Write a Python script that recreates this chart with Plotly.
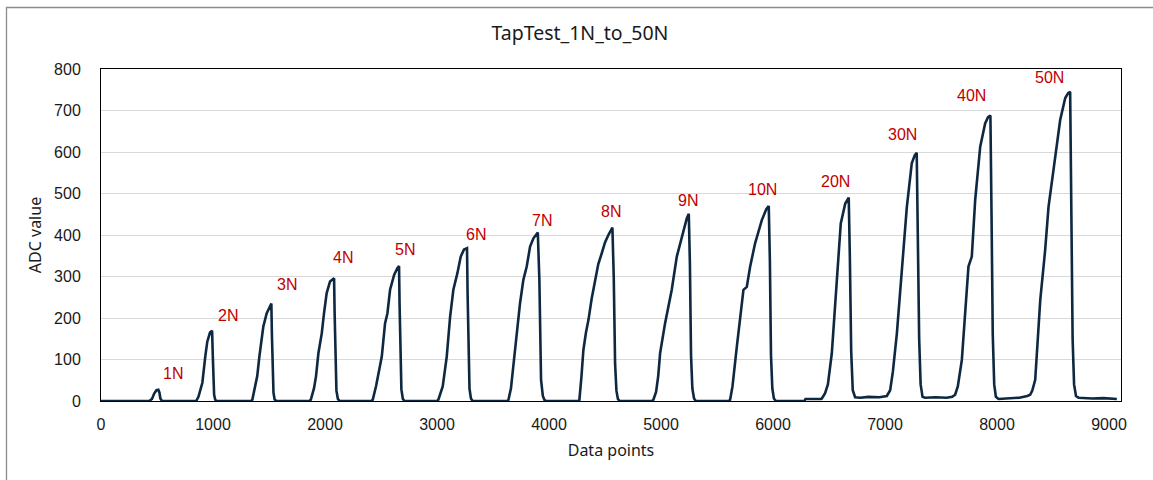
import plotly.graph_objects as go

# ---- data ----
baseline_x = [0, 430]
baseline_y = [0, 0]

p1_x = [455, 475, 495, 512, 522, 530, 545, 850]
p1_y = [5, 18, 26, 27, 20, 6, 0, 0]
p2_x = [870, 884, 905, 931, 949, 973, 992, 998, 1003, 1010, 1020, 1035, 1340]
p2_y = [10, 26, 44, 107, 143, 165, 169, 110, 50, 15, 3, 0, 0]
p3_x = [1351, 1375, 1395, 1414, 1449, 1479, 1503, 1521, 1526, 1532, 1540, 1550, 1565, 1860]
p3_y = [3, 34, 60, 107, 179, 211, 227, 235, 160, 70, 20, 4, 0, 0]
p4_x = [1873, 1902, 1920, 1941, 1971, 1991, 2015, 2045, 2070, 2081, 2086, 2093, 2102, 2115, 2130, 2415]
p4_y = [3, 31, 60, 115, 163, 211, 260, 288, 295, 296, 210, 90, 25, 5, 0, 0]
p5_x = [2426, 2456, 2480, 2507, 2536, 2557, 2581, 2617, 2646, 2661, 2666, 2673, 2682, 2695, 2710, 3000]
p5_y = [3, 36, 70, 107, 187, 211, 268, 304, 320, 325, 230, 100, 28, 5, 0, 0]
p6_x = [3012, 3051, 3070, 3087, 3117, 3146, 3182, 3212, 3241, 3268, 3273, 3280, 3290, 3303, 3318, 3625]
p6_y = [3, 35, 70, 107, 203, 268, 308, 348, 365, 368, 260, 110, 30, 6, 0, 0]
p7_x = [3637, 3660, 3682, 3712, 3741, 3771, 3801, 3831, 3861, 3900, 3914, 3929, 3945, 3960, 3975, 4260]
p7_y = [2, 30, 83, 171, 235, 292, 324, 372, 392, 406, 292, 51, 12, 2, 0, 0]
p8_x = [4271, 4290, 4307, 4330, 4352, 4380, 4411, 4440, 4471, 4500, 4530, 4566, 4578, 4590, 4602, 4615, 4630, 4920]
p8_y = [2, 60, 123, 165, 195, 245, 292, 330, 356, 382, 400, 418, 300, 90, 25, 5, 0, 0]
p9_x = [4932, 4956, 4975, 4992, 5036, 5096, 5141, 5200, 5230, 5248, 5258, 5268, 5280, 5295, 5310, 5605]
p9_y = [3, 22, 60, 115, 187, 268, 348, 412, 440, 451, 330, 110, 30, 6, 0, 0]
p10_x = [5617, 5638, 5655, 5677, 5736, 5766, 5796, 5840, 5900, 5940, 5962, 5972, 5982, 5994, 6008, 6025, 6280, 6290, 6430]
p10_y = [3, 35, 80, 131, 268, 275, 324, 380, 436, 462, 470, 340, 110, 30, 6, 0, 0, 5, 5]
p20_x = [6436, 6465, 6490, 6525, 6550, 6570, 6605, 6645, 6676, 6686, 6698, 6712, 6733, 6780, 6850, 6950, 7000]
p20_y = [6, 19, 40, 115, 220, 308, 428, 476, 490, 350, 120, 26, 9, 8, 10, 9, 11]
p30_x = [7016, 7046, 7070, 7106, 7150, 7195, 7239, 7265, 7283, 7293, 7305, 7318, 7335, 7358, 7450, 7550, 7600]
p30_y = [12, 26, 70, 163, 324, 468, 573, 592, 598, 400, 150, 40, 10, 8, 9, 8, 10]
p40_x = [7626, 7650, 7686, 7745, 7775, 7805, 7850, 7894, 7920, 7941, 7951, 7962, 7975, 7990, 8013, 8100, 8200, 8270]
p40_y = [15, 35, 99, 324, 348, 484, 613, 669, 684, 688, 450, 160, 40, 10, 5, 6, 8, 12]
p50_x = [8296, 8315, 8341, 8386, 8430, 8460, 8520, 8564, 8609, 8635, 8653, 8663, 8675, 8688, 8705, 8728, 8850, 8950, 9000, 9070]
p50_y = [15, 25, 51, 243, 364, 468, 589, 677, 730, 742, 745, 500, 150, 40, 12, 8, 6, 7, 6, 5]

label_text = ["1N", "2N", "3N", "4N", "5N", "6N", "7N", "8N", "9N", "10N", "20N", "30N", "40N", "50N"]
label_x = [646, 1131, 1663, 2158, 2714, 3345, 3935, 4551, 5244, 5908, 6560, 7158, 7774, 8467]
label_y = [67, 207, 281, 345, 364, 402, 436, 456, 482, 510, 530, 641, 737, 780]

x_ticks = [0, 1000, 2000, 3000, 4000, 5000, 6000, 7000, 8000, 9000]
y_ticks = [0, 100, 200, 300, 400, 500, 600, 700, 800]

segments_x = [baseline_x, p1_x, p2_x, p3_x, p4_x, p5_x, p6_x, p7_x, p8_x, p9_x, p10_x, p20_x, p30_x, p40_x, p50_x]
segments_y = [baseline_y, p1_y, p2_y, p3_y, p4_y, p5_y, p6_y, p7_y, p8_y, p9_y, p10_y, p20_y, p30_y, p40_y, p50_y]
xs, ys = [], []
for sx, sy in zip(segments_x, segments_y):
    xs.extend(sx)
    ys.extend(sy)

fig = go.Figure()
fig.add_trace(go.Scatter(x=xs, y=ys, mode="lines",
                         line=dict(color="#0E2841", width=2.6),
                         showlegend=False, hoverinfo="skip"))

for t, lx, ly in zip(label_text, label_x, label_y):
    fig.add_annotation(x=lx, y=ly, text=t, showarrow=False,
                       font=dict(family="Liberation Sans, Arial", size=16, color="#C00000"),
                       xanchor="center", yanchor="middle")

tick_font = dict(family="Liberation Sans, Arial", size=16, color="#1A1A1A")
title_font = dict(family="Noto Sans, Liberation Sans", size=16, color="#1A1A1A")

fig.update_layout(
    width=1153, height=480,
    margin=dict(l=101, r=32, t=69, b=79),
    paper_bgcolor="white", plot_bgcolor="white",
    title=dict(text="TapTest_1N_to_50N", x=0.503, xanchor="center",
               y=1 - 33 / 480, yanchor="middle", yref="container",
               font=dict(family="Noto Sans, Liberation Sans", size=19.5, color="#1A1A1A")),
    xaxis=dict(range=[0, 9107], tickvals=x_ticks, ticktext=[str(v) for v in x_ticks],
               showgrid=False, zeroline=False, showline=True, linecolor="#000000",
               linewidth=1, mirror=True, ticks="", tickfont=tick_font,
               ticklabelstandoff=9,
               title=dict(text="Data points", standoff=12, font=title_font)),
    yaxis=dict(range=[0, 800], tickvals=y_ticks, showgrid=True, gridcolor="#D9D9D9",
               gridwidth=1, zeroline=False, showline=True, linecolor="#000000",
               linewidth=1, mirror=True, ticks="", tickfont=tick_font,
               ticklabelstandoff=16,
               title=dict(text="ADC value", standoff=8, font=title_font)),
    shapes=[dict(type="rect", xref="paper", yref="paper",
                 x0=(6.5 - 101) / 1020, x1=(1170 - 101) / 1020,
                 y0=-(500 - 401) / 332, y1=1 + (69 - 7.5) / 332,
                 line=dict(color="#8C8C8C", width=1.3), layer="below")],
)

fig.write_html("out.html")
